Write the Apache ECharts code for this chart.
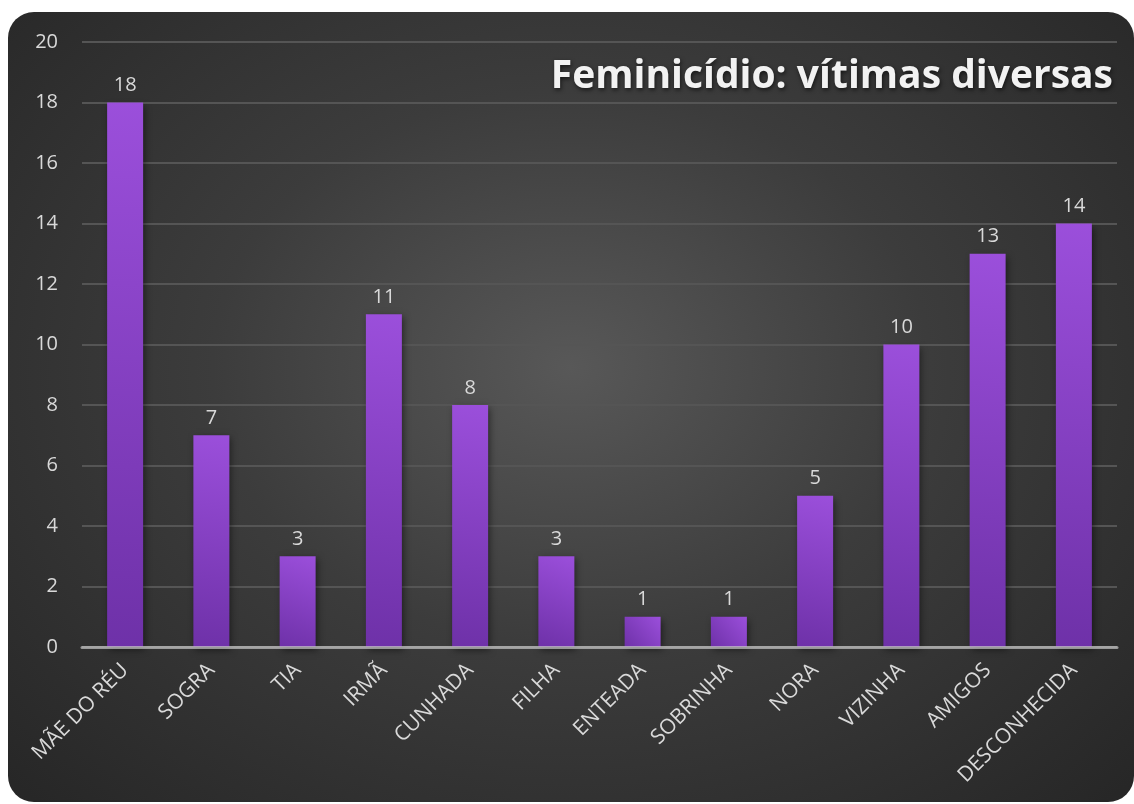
<!DOCTYPE html>
<html>
<head>
<meta charset="utf-8">
<script src="https://cdn.jsdelivr.net/npm/echarts@6/dist/echarts.min.js"></script>
<style>
  html, body { margin: 0; padding: 0; background: #fff; overflow: hidden; }
  #chart {
    position: absolute;
    left: 8px;
    top: 12px;
    width: 1126px;
    height: 790px;
    border-radius: 26px;
    overflow: hidden;
    background: radial-gradient(ellipse at 50% 45%, #585858 0%, #3c3c3c 45%, #262626 100%);
  }
</style>
</head>
<body>
<div id="chart"></div>
<script>
const categories = ['MÃE DO RÉU', 'SOGRA', 'TIA', 'IRMÃ', 'CUNHADA', 'FILHA', 'ENTEADA', 'SOBRINHA', 'NORA', 'VIZINHA', 'AMIGOS', 'DESCONHECIDA']
const values = [18, 7, 3, 11, 8, 3, 1, 1, 5, 10, 13, 14]
const yTicks = { min: 0, max: 20, interval: 2 }

const FONT = '"Open Sans", "DejaVu Sans", sans-serif'
const TEXT_COLOR = '#d9d9d9'

const chart = echarts.init(document.getElementById('chart'))

// 紫色柱子：右上亮，左下暗
const barColor = new echarts.graphic.LinearGradient(1, 0, 0, 1, [
  { offset: 0, color: '#9b4fdb' },
  { offset: 1, color: '#6e31a8' },
])

chart.setOption({
  backgroundColor: 'transparent',
  title: {
    text: 'Feminicídio: vítimas diversas',
    right: 16,
    top: 40,
    textStyle: {
      color: '#f2f2f2',
      fontFamily: FONT,
      fontSize: 39,
      fontWeight: 'bold',
      textShadowColor: 'rgba(0,0,0,0.6)',
      textShadowBlur: 4,
      textShadowOffsetX: 1,
      textShadowOffsetY: 2,
    },
  },
  grid: { left: 74, right: 17, top: 30, bottom: 155 },
  xAxis: {
    type: 'category',
    data: categories,
    axisTick: { show: false },
    axisLine: { lineStyle: { color: 'rgba(200,200,200,0.7)', width: 3 } },
    z: 3,
    axisLabel: {
      rotate: 45,
      interval: 0,
      margin: 20,
      color: TEXT_COLOR,
      fontFamily: FONT,
      fontSize: 21,
    },
  },
  yAxis: {
    type: 'value',
    min: yTicks.min,
    max: yTicks.max,
    interval: yTicks.interval,
    axisLine: { show: false },
    axisTick: { show: false },
    axisLabel: {
      margin: 24,
      color: TEXT_COLOR,
      fontFamily: FONT,
      fontSize: 20,
    },
    splitLine: { lineStyle: { color: '#555555', width: 2 } },
  },
  series: [
    {
      type: 'bar',
      data: values,
      barWidth: 36,
      itemStyle: {
        color: barColor,
        shadowColor: 'rgba(0,0,0,0.5)',
        shadowBlur: 7,
        shadowOffsetX: 2,
        shadowOffsetY: 3,
      },
      label: {
        show: true,
        position: 'top',
        distance: 7,
        color: TEXT_COLOR,
        fontFamily: FONT,
        fontSize: 20,
      },
    },
  ],
})
</script>
</body>
</html>
